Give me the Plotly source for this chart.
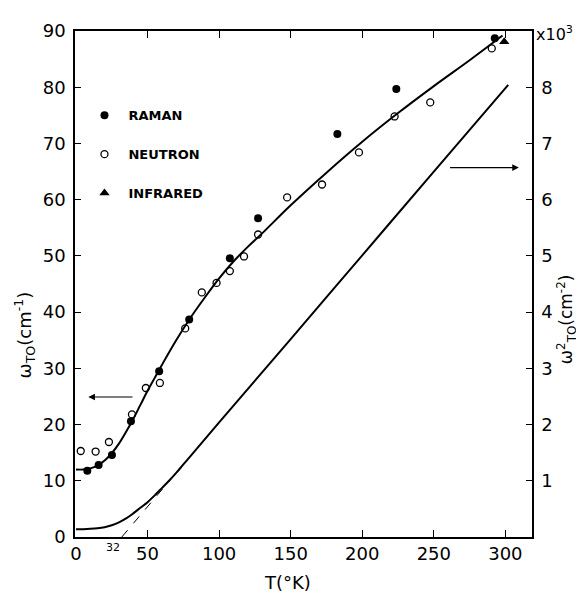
import plotly.graph_objects as go

# ---- data ----
# upper curve: omega_TO (cm^-1) vs T (K)
curve_T = [0, 5, 10, 15, 20, 25, 30, 35, 40, 45, 50, 55, 60, 70, 80, 90, 100, 110,
           120, 130, 150, 175, 200, 225, 250, 275, 298]
curve_w = [12.0, 12.0, 12.2, 12.7, 13.6, 14.9, 16.6, 18.7, 21.0, 23.5, 26.0, 28.3,
           30.6, 35.0, 39.0, 42.6, 46.0, 49.0, 51.6, 54.0, 59.0, 64.8, 70.3, 75.4,
           80.2, 84.8, 89.2]

# lower curve: omega_TO^2 (x10^3 cm^-2) vs T (K)
sq_T = [0, 5, 10, 15, 20, 25, 30, 35, 40, 45, 50, 55, 60, 65, 70, 75, 80, 100,
        150, 200, 250, 302]
sq_v = [0.14, 0.14, 0.145, 0.155, 0.175, 0.21, 0.26, 0.33, 0.42, 0.52, 0.62, 0.74,
        0.87, 1.0, 1.14, 1.29, 1.44, 2.04, 3.52, 5.01, 6.5, 8.04]

# dashed extrapolation of the omega^2 line to T = 32 K
dash_T = [32, 72]
dash_v = [0.0, 1.2]

raman_T = [7.9, 15.8, 25.1, 38.4, 58.1, 79.1, 107.5, 127.2, 182.6, 223.8, 292.6]
raman_w = [11.8, 12.8, 14.6, 20.6, 29.5, 38.7, 49.6, 56.7, 71.7, 79.7, 88.7]

neutron_T = [3.3, 13.7, 23.0, 39.1, 48.8, 58.6, 76.3, 87.9, 98.2, 107.5, 117.4,
             127.2, 147.5, 171.9, 197.7, 222.6, 247.5, 290.5]
neutron_w = [15.3, 15.2, 16.9, 21.8, 26.5, 27.4, 37.1, 43.5, 45.2, 47.3, 49.9,
             53.8, 60.4, 62.7, 68.4, 74.8, 77.3, 86.9]

infrared_T = [299.2]
infrared_w = [88.1]

x_ticks = [0, 50, 100, 150, 200, 250, 300]
y_ticks = [0, 10, 20, 30, 40, 50, 60, 70, 80, 90]
y2_ticks = [1, 2, 3, 4, 5, 6, 7, 8]

FONT = "DejaVu Sans"

fig = go.Figure()

fig.add_trace(go.Scatter(x=curve_T, y=curve_w, mode="lines", line=dict(color="black", width=2, shape="spline"),
                         showlegend=False, hoverinfo="skip"))
fig.add_trace(go.Scatter(x=sq_T, y=sq_v, mode="lines", yaxis="y2",
                         line=dict(color="black", width=2, shape="spline"),
                         showlegend=False, hoverinfo="skip"))
fig.add_trace(go.Scatter(x=dash_T, y=dash_v, mode="lines", yaxis="y2",
                         line=dict(color="black", width=1, dash="dash"),
                         showlegend=False, hoverinfo="skip"))

fig.add_trace(go.Scatter(x=raman_T, y=raman_w, mode="markers", name="RAMAN", legendgroup="a",
                         marker=dict(symbol="circle", size=8, color="black")))
fig.add_trace(go.Scatter(x=neutron_T, y=neutron_w, mode="markers", name="NEUTRON", legendgroup="b",
                         marker=dict(symbol="circle-open", size=7, color="black", line=dict(width=1.3))))
fig.add_trace(go.Scatter(x=infrared_T, y=infrared_w, mode="markers", name="INFRARED", legendgroup="c",
                         marker=dict(symbol="triangle-up", size=9, color="black")))

tickfont = dict(family=FONT, size=18, color="black")

# the page body adds an 8px margin, so the figure is 8px smaller than the window
fig.update_layout(
    width=576, height=586,
    margin=dict(l=67, r=51.5, t=17, b=57),
    paper_bgcolor="white", plot_bgcolor="white",
    font=dict(family=FONT, color="black"),
    showlegend=True,
    legend=dict(x=0.012, y=0.863, xanchor="left", yanchor="top",
                bgcolor="rgba(0,0,0,0)", tracegroupgap=19, itemwidth=38,
                font=dict(family=FONT, size=13, color="black", weight="bold")),
    xaxis=dict(range=[-0.7, 318.6], tickvals=x_ticks, ticktext=[str(v) for v in x_ticks],
               ticks="inside", ticklen=7, tickwidth=1.3, tickcolor="black",
               showline=True, linecolor="black", linewidth=1.5, mirror="ticks",
               showgrid=False, zeroline=False, tickfont=tickfont),
    yaxis=dict(range=[0, 90], tickvals=y_ticks, ticktext=[str(v) for v in y_ticks],
               ticks="inside", ticklen=6, tickwidth=1.3, tickcolor="black",
               showline=True, linecolor="black", linewidth=1.5,
               showgrid=False, zeroline=False, tickfont=tickfont, ticklabelstandoff=4),
    yaxis2=dict(range=[0, 9], overlaying="y", side="right", tickvals=y2_ticks,
                ticktext=[str(v) for v in y2_ticks],
                ticks="inside", ticklen=6, tickwidth=1.3, tickcolor="black",
                showline=True, linecolor="black", linewidth=1.5,
                showgrid=False, zeroline=False, tickfont=tickfont, ticklabelstandoff=4),
)

ann = []
ann.append(dict(text="ω<sub>TO</sub>(cm<sup>-1</sup>)", textangle=-90, xref="paper", yref="paper",
                x=-0.112, y=0.40, xanchor="center", yanchor="middle", showarrow=False,
                font=dict(family=FONT, size=18, color="black")))
ann.append(dict(text="ω<sup>2</sup><sub>TO</sub>(cm<sup>-2</sup>)", textangle=-90, xref="paper", yref="paper",
                x=1.076, y=0.43, xanchor="center", yanchor="middle", showarrow=False,
                font=dict(family=FONT, size=17, color="black")))
ann.append(dict(text="x10<sup>3</sup>", xref="paper", yref="paper", x=1.005, y=0.995,
                xanchor="left", yanchor="middle", showarrow=False,
                font=dict(family=FONT, size=16, color="black")))
ann.append(dict(text="T(°K)", xref="paper", yref="paper", x=0.465, y=-0.09,
                xanchor="center", yanchor="middle", showarrow=False,
                font=dict(family=FONT, size=18, color="black")))
ann.append(dict(text="32", xref="x", yref="paper", x=32, y=-0.021,
                xanchor="right", yanchor="middle", showarrow=False,
                font=dict(family=FONT, size=11, color="black")))
# arrows pointing to the relevant axes
ann.append(dict(text="", x=8.6, y=24.9, xref="x", yref="y", ax=40.5, ay=24.9, axref="x", ayref="y",
                showarrow=True, arrowhead=2, arrowsize=1.1, arrowwidth=1.2, arrowcolor="black"))
ann.append(dict(text="", x=309.4, y=6.57, xref="x", yref="y2", ax=260.3, ay=6.57, axref="x", ayref="y2",
                showarrow=True, arrowhead=2, arrowsize=1.1, arrowwidth=1.2, arrowcolor="black"))
fig.update_layout(annotations=ann)

fig.write_html("out.html")
